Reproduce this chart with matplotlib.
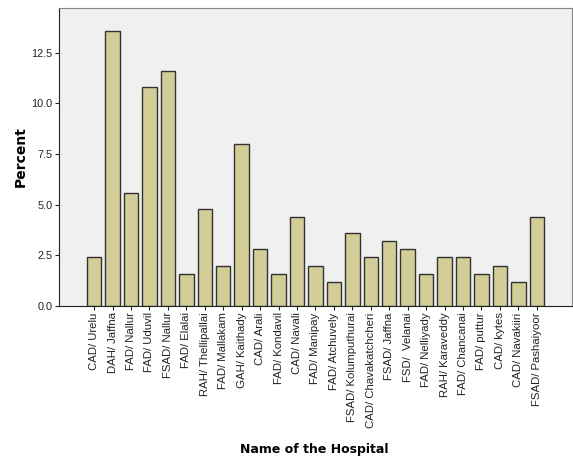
import matplotlib
matplotlib.use("Agg")
import matplotlib.pyplot as plt
import numpy as np

hospitals = ["CAD/ Urelu", "DAH/ Jaffna", "FAD/ Nallur", "FAD/ Uduvil", "FSAD/ Nallur",
             "FAD/ Elalai", "RAH/ Thellipallai", "FAD/ Mallakam", "GAH/ Kaithady", "CAD/ Arali",
             "FAD/ Kondavil", "CAD/ Navali", "FAD/ Manipay", "FAD/ Atchuvely", "FSAD/ Kolumputhurai",
             "CAD/ Chavakatchcheri", "FSAD/ Jaffna", "FSD/  Velanai", "FAD/ Nelliyady", "RAH/ Karaveddy",
             "FAD/ Chancanai", "FAD/ puttur", "CAD/ kytes", "CAD/ Navakiiri", "FSAD/ Pashaiyoor"]
percent = [2.4, 13.6, 5.6, 10.8, 11.6, 1.6, 4.8, 2.0, 8.0, 2.8,
           1.6, 4.4, 2.0, 1.2, 3.6, 2.4, 3.2, 2.8, 1.6, 2.4,
           2.4, 1.6, 2.0, 1.2, 4.4]
yticks = [0.0, 2.5, 5.0, 7.5, 10.0, 12.5]

plt.rcParams['font.family'] = ['Liberation Sans', 'DejaVu Sans']

fig = plt.figure(figsize=(5.73, 4.61), dpi=100)
ax = fig.add_axes([0.103, 0.336, 0.896, 0.647])
ax.set_facecolor('#f0f0f0')

x = np.arange(len(hospitals))
ax.bar(x, percent, width=0.78, color='#d3ce97', edgecolor='#333333', linewidth=1.0)

ax.set_xlim(-1.9, len(hospitals) - 1 + 1.93)
ax.set_ylim(0, 14.72)
ax.set_yticks(yticks)
ax.set_yticklabels(["%.1f" % v for v in yticks], fontsize=7.8, color='#222222')
ax.set_xticks(x)
ax.set_xticklabels(hospitals, rotation=90, fontsize=8.2, color='#222222')
ax.tick_params(axis='both', direction='out', length=3, width=0.8, color='#222222', pad=1.5)

for s in ['top', 'right']:
    ax.spines[s].set_color('#888888')
for s in ['left', 'bottom']:
    ax.spines[s].set_color('#222222')

ax.set_ylabel('Percent', fontsize=10, fontweight='bold', family='DejaVu Sans', labelpad=3)
fig.text(0.548, 0.01, 'Name of the Hospital', fontsize=9, fontweight='bold',
         family='DejaVu Sans', ha='center', va='bottom')

fig.savefig('out.png', dpi=100)
